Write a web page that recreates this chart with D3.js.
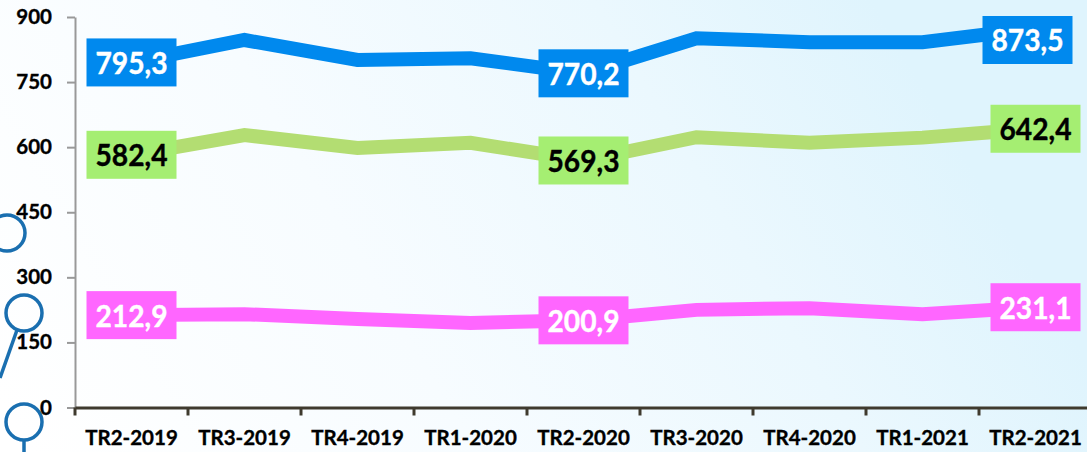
<!DOCTYPE html>
<html><head><meta charset="utf-8">
<script src="https://cdn.jsdelivr.net/npm/d3@7/dist/d3.min.js"></script>
<style>
html,body{margin:0;padding:0;background:#fff;overflow:hidden}
svg{display:block}
text{font-family:Lato,"Open Sans",sans-serif;font-weight:700}
</style></head><body>
<svg id="chart" width="1087" height="452"></svg>
<script>
const categories = ["TR2-2019","TR3-2019","TR4-2019","TR1-2020","TR2-2020","TR3-2020","TR4-2020","TR1-2021","TR2-2021"];
const blueValues  = [795.3,847,801,805,770.2,851,842,842,873.5];
const greenValues = [582.4,628,598,610,569.3,623,610,622,642.4];
const pinkValues  = [212.9,215,204,195,200.9,225,229,215,231.1];
const yTicks = [0,150,300,450,600,750,900];
const labelIdx = [0,4,8];
const seriesList = [
  {values:blueValues, line:"#0089ee", box:"#0089ee", text:"#fff", nudge:[[0,0],[0,0],[-8,11.5]]},
  {values:greenValues,line:"#b3dd72", box:"#a5ee72", text:"#000", nudge:[[0,0],[0,0],[0,0]]},
  {values:pinkValues, line:"#ff66ff", box:"#ff66ff", text:"#fff", nudge:[[0,0],[0,0],[0,0]]}
];
const svg = d3.select("#chart");
const defs = svg.append("defs");
const g = defs.append("linearGradient").attr("id","bg").attr("gradientUnits","userSpaceOnUse")
  .attr("x1",40).attr("y1",470).attr("x2",860).attr("y2",-20);
g.append("stop").attr("offset","0%").attr("stop-color","#ffffff");
g.append("stop").attr("offset","40%").attr("stop-color","#f7fcff");
g.append("stop").attr("offset","75%").attr("stop-color","#ebf8fe");
g.append("stop").attr("offset","100%").attr("stop-color","#dff4fd");
svg.append("rect").attr("width",1087).attr("height",452).attr("fill","url(#bg)");

const x = d3.scaleBand().domain(categories).range([75,1092]);
const y = d3.scaleLinear().domain([0,900]).range([407.5,17]);
const cx = d => x(d)+x.bandwidth()/2;

const deco = svg.append("g").attr("fill","none").attr("stroke","#1a6fb0").attr("stroke-width",3.5);
[[7,233],[24,313],[24,422]].forEach(c=>deco.append("circle").attr("cx",c[0]).attr("cy",c[1]).attr("r",18));
deco.append("line").attr("x1",17).attr("y1",330).attr("x2",0).attr("y2",378);
deco.append("line").attr("x1",24).attr("y1",440).attr("x2",24).attr("y2",452);

const yAxis = d3.axisLeft(y).tickValues(yTicks).tickSize(8).tickPadding(15).tickSizeOuter(0);
const ya = svg.append("g").attr("transform","translate(75,0)").call(yAxis);
ya.select(".domain").attr("stroke","#999").attr("stroke-width",2);
ya.selectAll(".tick line").attr("stroke","#999").attr("stroke-width",2);
ya.selectAll("text").attr("font-size",20.5).attr("fill","#000").attr("stroke","#000").attr("stroke-width",0.35)
  .style("font-family","Lato").style("font-weight",700).attr("dy","0.32em");

const xAxis = d3.axisBottom(x).tickSize(0).tickPadding(23);
const xa = svg.append("g").attr("transform","translate(0,407.5)").call(xAxis);
xa.select(".domain").attr("stroke","#3f3a2e").attr("stroke-width",3);
xa.selectAll("text").attr("font-size",20.5).attr("fill","#000").attr("stroke","#000").attr("stroke-width",0.35)
  .style("font-family","Lato").style("font-weight",700);
const edges = categories.map(c=>x(c)).concat([x.range()[1]]);
xa.selectAll("line.edge").data(edges).join("line").attr("class","edge")
  .attr("x1",d=>d).attr("x2",d=>d).attr("y1",0).attr("y2",8)
  .attr("stroke","#3f3a2e").attr("stroke-width",3);

const line = d3.line().x((d,i)=>cx(categories[i])).y(d=>y(d));
svg.selectAll("path.series").data(seriesList).join("path").attr("class","series")
  .attr("fill","none").attr("stroke",d=>d.line).attr("stroke-width",14).attr("stroke-linejoin","miter")
  .attr("d",d=>line(d.values));

seriesList.forEach(s=>{
  labelIdx.forEach((idx,k)=>{
    const px = cx(categories[idx])+s.nudge[k][0], py = y(s.values[idx])+s.nudge[k][1];
    svg.append("rect").attr("x",px-45).attr("y",py-24).attr("width",90).attr("height",48).attr("fill",s.box);
    svg.append("text").attr("x",px).attr("y",py).attr("dy","0.38em").attr("text-anchor","middle")
      .attr("font-size",30).attr("textLength",72).attr("lengthAdjust","spacingAndGlyphs")
      .attr("fill",s.text).attr("stroke",s.text).attr("stroke-width",0.4)
      .text(s.values[idx].toFixed(1).replace(".",","));
  });
});
</script></body></html>
